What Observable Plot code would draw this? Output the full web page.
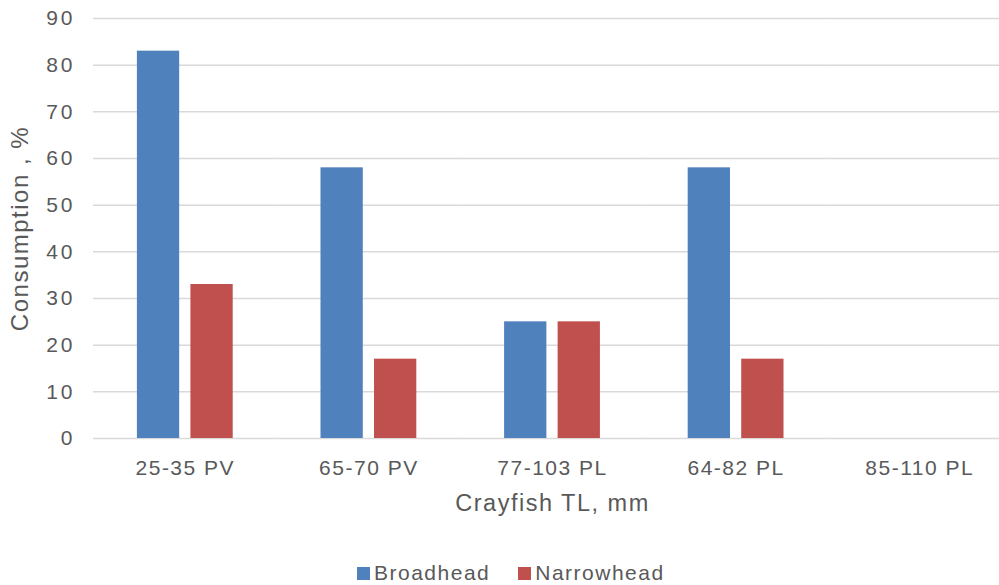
<!DOCTYPE html>
<html><head><meta charset="utf-8">
<script src="https://cdn.jsdelivr.net/npm/d3@7"></script>
<script src="https://cdn.jsdelivr.net/npm/@observablehq/plot@0.6"></script>
<style>
body{margin:0;background:#fff;font-family:"Liberation Sans",Arial,sans-serif;width:999px;height:585px;overflow:hidden;position:relative;}
#chart svg text{letter-spacing:1.5px;}
#chart svg g[aria-label="y-axis tick label"] text{letter-spacing:3px;}
#legend{position:absolute;left:357px;top:561px;display:flex;align-items:center;font-size:21px;color:#595959;letter-spacing:1.5px;}
#legend .item{display:flex;align-items:center;margin-right:28px;}
#legend .sw{width:13px;height:13px;margin-right:4px;}
</style></head><body><div id="chart"></div><div id="legend"></div>
<script>
const categories = ["25-35 PV","65-70 PV","77-103 PL","64-82 PL","85-110 PL"];
const series = ["Broadhead","Narrowhead"];
const broadhead = [83,58,25,58,0];
const narrowhead = [33,17,25,17,0];
const colors = ["#4F81BD","#C0504D"];
const yTicks = [0,10,20,30,40,50,60,70,80,90];
const yLabel = "Consumption , %";
const xLabel = "Crayfish TL, mm";

const data = categories.flatMap((c,i)=>[
  {category:c, series:series[0], value:broadhead[i]},
  {category:c, series:series[1], value:narrowhead[i]}
]);

const chart = Plot.plot({
  width:999, height:550, marginTop:18, marginBottom:112, marginLeft:93, marginRight:0,
  style:{fontFamily:"'Liberation Sans', Arial, sans-serif", color:"#595959", background:"transparent", overflow:"visible"},
  fx:{domain:categories, range:[93,1011], paddingInner:0, paddingOuter:0, round:false, label:null, axis:null},
  x:{domain:series, paddingInner:0.21, paddingOuter:0.82, round:false, axis:null},
  y:{domain:[0,90], ticks:yTicks, axis:null},
  color:{domain:series, range:colors},
  marks:[
    Plot.gridY(yTicks,{stroke:"#d9d9d9", strokeOpacity:1, strokeWidth:1.5}),
    Plot.barY(data,{fx:"category", x:"series", y:"value", fill:"series"}),
    Plot.axisY(yTicks,{tickSize:0, tickPadding:18, fontSize:21, label:null, fill:"#595959"}),
    Plot.axisY([],{tickSize:0, fontSize:24, label:yLabel, labelAnchor:"center", labelArrow:"none", labelOffset:83, fill:"#595959"}),
    Plot.axisFx({anchor:"bottom", tickSize:0, tickPadding:22, fontSize:21, label:null, fill:"#595959"}),
    Plot.axisFx([],{anchor:"bottom", tickSize:0, fontSize:23.5, label:xLabel, labelAnchor:"center", labelArrow:"none", labelOffset:72, fill:"#595959"})
  ]
});
document.getElementById("chart").appendChild(chart);

const legend = document.getElementById("legend");
series.forEach((s,i)=>{
  const item = document.createElement("div");
  item.className = "item";
  const sw = document.createElement("div");
  sw.className = "sw";
  sw.style.background = colors[i];
  const t = document.createElement("span");
  t.textContent = s;
  item.appendChild(sw); item.appendChild(t);
  legend.appendChild(item);
});
</script></body></html>
